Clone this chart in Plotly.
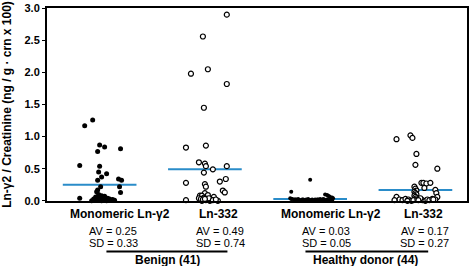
import plotly.graph_objects as go

# ---------------- data ----------------
categories = ["Monomeric Ln-γ2", "Ln-332", "Monomeric Ln-γ2", "Ln-332"]
groups = ["Benign (41)", "Healthy donor (44)"]
averages = [0.25, 0.49, 0.03, 0.17]
sds = [0.33, 0.74, 0.05, 0.27]

# Benign, monomeric Ln-γ2 (values) and horizontal jitter in pixels
benign_mono = [1.17, 1.26, 0.87, 0.77, 0.84, 0.81, 0.55, 0.54, 0.45, 0.42, 0.37, 0.34, 0.32, 0.32,
               0.22, 0.22, 0.13, 0.17, 0.04,
               0.14, 0.10, 0.08, 0.07, 0.06, 0.05, 0.04, 0.04, 0.03, 0.03, 0.03, 0.02, 0.02, 0.02,
               0.02, 0.01, 0.01, 0.01, 0.01, 0.00, 0.00, 0.00]
benign_mono_jit = [-15, -7, 0, -2, 5, 21, -20, 0, -1, 7, 2, 19, 22, -2,
                   1, 20, 21, -2, -20,
                   -3, -1, 2, 5, -4, 0, 3, 8, -6, 1, 10, -2, 4, 13,
                   6, -5, 0, 9, 15, 2, 7, -8]

# Benign, Ln-332
benign_332 = [2.90, 2.56, 1.98, 2.05, 1.82, 1.45, 0.83, 0.86, 0.60, 0.58, 0.54, 0.54, 0.49, 0.44,
              0.28, 0.30, 0.34, 0.26, 0.22, 0.16, 0.13, 0.12, 0.08, 0.08, 0.09, 0.06,
              0.01, 0.00, 0.01, 0.00, 0.00,
              0.04, 0.03, 0.05, 0.02, 0.03, 0.04, 0.02, 0.01, 0.03, 0.02]
benign_332_jit = [22, -2, -14, 3, 22, -1, -19, 1, -6, 0, 1, 22, 8, -1,
                  -19, 15, 21, 0, 1, 18, 20, 0, -5, -3, 3, 9,
                  -19, -3, 1, 5, 13,
                  -6, 2, -1, 6, -4, 4, -2, 8, 0, 11]

# Healthy donor, monomeric Ln-γ2
healthy_mono = [0.33, 0.14,
                0.10, 0.09, 0.08, 0.07, 0.06, 0.05, 0.04,
                0.04, 0.03, 0.02, 0.02, 0.03, 0.01, 0.02, 0.01, 0.02, 0.03, 0.01, 0.02,
                0.00, 0.01, 0.02, 0.03, 0.01, 0.02, 0.01, 0.00, 0.02, 0.01, 0.03, 0.02,
                0.01, 0.02, 0.00, 0.01, 0.02, 0.01, 0.03, 0.02, 0.01, 0.00, 0.02]
healthy_mono_jit = [0, -19,
                    15, 17, 18, 19, 20, 22, 23,
                    -20, -18, -16, -14, -12, -10, -8, -6, -4, -2, 0, 2,
                    4, 6, 8, 10, 12, 14, 16, 18, 20, 22, -19, -15,
                    -11, -7, -3, 1, 5, 9, 13, 17, 21, 3, 7]

# Healthy donor, Ln-332
healthy_332 = [0.96, 1.02, 0.98, 0.73, 0.56, 0.50, 0.28, 0.28, 0.27, 0.28, 0.20, 0.17, 0.12,
               0.06, 0.06,
               0.22, 0.19, 0.16, 0.14, 0.12, 0.10, 0.08, 0.06, 0.04, 0.02,
               0.02, 0.01, 0.03, 0.02, 0.00, 0.01, 0.02, 0.03, 0.01, 0.00,
               0.02, 0.01, 0.03, 0.02, 0.01, 0.00, 0.04, 0.02, 0.01]
healthy_332_jit = [-19, -5, -3, 1, 0, 22, 6, 8, 11, 15, 9, 20, 21,
                   -19, 22,
                   -1, 0, 1, -1, 0, 1, -1, 0, 1, 0,
                   -16, -13, -10, -7, -4, -2, 2, 4, 7, 10,
                   12, 14, 17, 20, -21, -8, 5, 18, 3]

# ---------------- figure ----------------
PX = 105.7  # pixels per category unit (for converting jitter)
FONT = "Liberation Sans, Arial, Helvetica, sans-serif"
BLUE = "#2a8cc9"

fig = go.Figure()

# mean lines
for i, av in enumerate(averages):
    c = i + 1
    fig.add_trace(go.Scatter(x=[c - 0.35, c + 0.35], y=[av, av], mode="lines",
                             line=dict(color=BLUE, width=2), hoverinfo="skip", showlegend=False))

series = [
    (benign_mono, benign_mono_jit, 1, dict(symbol="circle", size=5, color="black")),
    (benign_332, benign_332_jit, 2, dict(symbol="circle", size=5, color="white",
                                         line=dict(color="black", width=1.2))),
    (healthy_mono, healthy_mono_jit, 3, dict(symbol="circle", size=4, color="black")),
    (healthy_332, healthy_332_jit, 4, dict(symbol="circle", size=5, color="white",
                                           line=dict(color="black", width=1.2))),
]
for vals, jit, c, mk in series:
    fig.add_trace(go.Scatter(x=[c + j / PX for j in jit], y=vals, mode="markers",
                             marker=mk, showlegend=False, cliponaxis=False))

# text below the axis (paper y: plot spans 195 px)
ann = []
label_x = [1.19, 2.126, 3.195, 4.075]
stat_x = [1.13, 2.145, 3.155, 4.09]
for i in range(4):
    ann.append(dict(x=label_x[i], y=-0.067, xref="x", yref="paper", yanchor="middle",
                    text=f"<b>{categories[i]}</b>",
                    showarrow=False, font=dict(size=12, color="black", family=FONT)))
    ann.append(dict(x=stat_x[i], y=-0.154, xref="x", yref="paper", yanchor="middle",
                    text=f"AV = {averages[i]:.2f}",
                    showarrow=False, font=dict(size=11, color="black", family=FONT)))
    ann.append(dict(x=stat_x[i], y=-0.218, xref="x", yref="paper", yanchor="middle",
                    text=f"SD = {sds[i]:.2f}",
                    showarrow=False, font=dict(size=11, color="black", family=FONT)))
group_x = [1.64, 3.526]
for g, gx in zip(groups, group_x):
    ann.append(dict(x=gx, y=-0.308, xref="x", yref="paper", yanchor="middle", text=f"<b>{g}</b>",
                    showarrow=False, font=dict(size=12, color="black", family=FONT)))

shapes = [
    dict(type="line", xref="paper", yref="paper", x0=0.1415, x1=0.4296, y0=-0.2615, y1=-0.2615,
         line=dict(color="black", width=2)),
    dict(type="line", xref="paper", yref="paper", x0=0.6154, x1=0.9076, y0=-0.2615, y1=-0.2615,
         line=dict(color="black", width=2)),
]

fig.update_layout(
    width=471, height=266,
    margin=dict(l=47, r=2, t=6, b=65),
    plot_bgcolor="white", paper_bgcolor="white",
    font=dict(family=FONT, color="black"),
    annotations=ann, shapes=shapes,
    xaxis=dict(range=[0.5, 4.49], showgrid=False, zeroline=False, showticklabels=False,
               ticks="", showline=True, linecolor="black", linewidth=2, mirror=True),
    yaxis=dict(range=[-0.003, 3.004], tickvals=[0, 0.5, 1.0, 1.5, 2.0, 2.5, 3.0],
               ticktext=["<b>0.0</b>", "<b>0.5</b>", "<b>1.0</b>", "<b>1.5</b>", "<b>2.0</b>",
                         "<b>2.5</b>", "<b>3.0</b>"],
               tickfont=dict(size=11, color="black", family=FONT),
               showgrid=False, zeroline=False, ticks="outside", ticklen=3, tickcolor="black",
               showline=True, linecolor="black", linewidth=2, mirror=True,
               title=dict(text="<b>Ln-γ2 / Creatinine (ng / g · crn x 100)</b>",
                          font=dict(size=12, color="black", family=FONT), standoff=10)),
)

fig.write_html("out.html", config={"displayModeBar": False},
               post_script="document.body.style.margin='0';document.body.style.overflow='hidden';")
